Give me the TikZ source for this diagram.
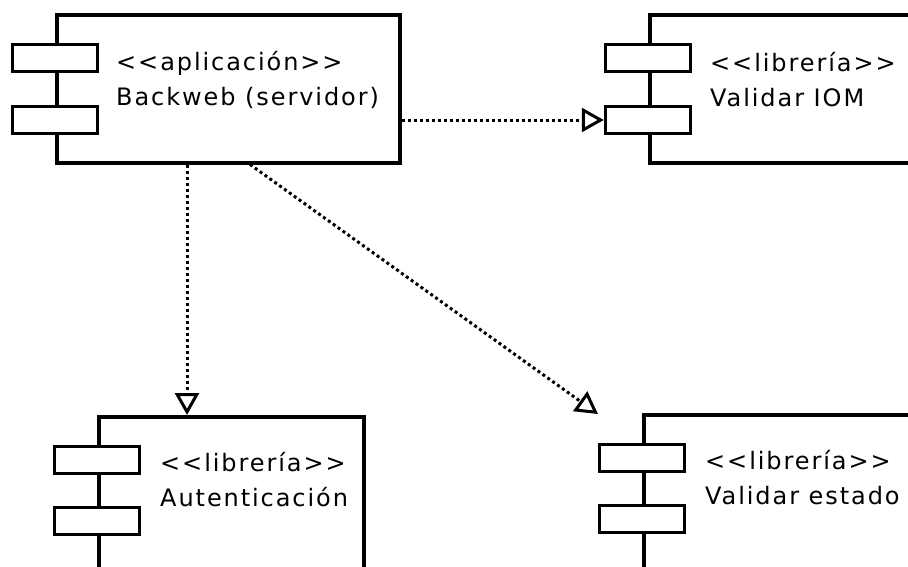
\documentclass[tikz,border=0pt]{standalone}
\usepackage{fontspec}
\setmainfont{DejaVu Sans}[LetterSpace=8, Ligatures=TeXOff]
\usetikzlibrary{arrows.meta}

\begin{document}
\begin{tikzpicture}[x=1pt, y=-1pt,
	comp/.style = {draw, line width=3.5pt, anchor=north west, inner sep=0pt},
	port/.style = {draw, fill=white, line width=3.5pt, minimum width=85pt, minimum height=27pt, inner sep=0pt},
	txt/.style = {anchor=west, align=left, inner sep=0pt, font=\fontsize{24}{35}\selectfont},
	dep/.style = {line width=3pt, dash pattern=on 3pt off 3pt, -{Triangle[open, length=22pt, width=24pt]}}]
	\useasboundingbox (0,0) rectangle (908,566);
	\clip (0,0) rectangle (908,566);
	% components
	\node[comp, minimum width=343pt, minimum height=148pt] (backweb) at (55,13) {};
	\node[port] (backweb p1) at (55,58) {};
	\node[port] (backweb p2) at (55,120) {};
	\node[txt] (backweb t) at (116,80) {<<aplicación>>\\Backweb (servidor)};

	\node[comp, minimum width=320pt, minimum height=148pt] (iom) at (648,13) {};
	\node[port] (iom p1) at (648,58) {};
	\node[port] (iom p2) at (648,120) {};
	\node[txt] (iom t) at (710,80) {<<librería>>\\Validar IOM};

	\node[comp, minimum width=265pt, minimum height=200pt] (aut) at (97,415) {};
	\node[port] (aut p1) at (97,460) {};
	\node[port] (aut p2) at (97,521) {};
	\node[txt] (aut t) at (160,480) {<<librería>>\\Autenticación};

	\node[comp, minimum width=320pt, minimum height=200pt] (estado) at (642,413) {};
	\node[port] (estado p1) at (642,458) {};
	\node[port] (estado p2) at (642,519) {};
	\node[txt] (estado t) at (705,478) {<<librería>>\\Validar estado};

	\coordinate (estado in) at (598,414);
	% dependencies
	\draw[dep] (backweb.east |- backweb p2) -- (iom p2.west);
	\draw[dep] ([xshift=132pt]backweb.south west) -- ([xshift=90pt]aut.north west);
	\draw[dep] ([xshift=195pt]backweb.south west) -- (estado in);
\end{tikzpicture}
\end{document}
